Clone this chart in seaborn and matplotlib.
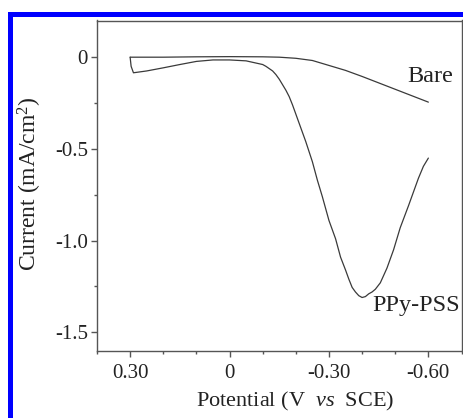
import matplotlib
matplotlib.use("Agg")
import matplotlib.pyplot as plt
from matplotlib.patches import Rectangle
from matplotlib.ticker import FixedLocator, MultipleLocator
import numpy as np
import pandas as pd
import seaborn as sns

# Linear sweep voltammograms (potential in V vs SCE, current density in mA/cm2)
bare_v = [0.30, 0.20, 0.10, 0.00, -0.10, -0.15, -0.20, -0.25, -0.30, -0.35,
          -0.40, -0.45, -0.50, -0.55, -0.60]
bare_i = [0.000, 0.000, 0.002, 0.003, 0.002, 0.000, -0.006, -0.018, -0.045,
          -0.072, -0.105, -0.140, -0.175, -0.210, -0.245]

ppy_v = [0.30, 0.297, 0.29, 0.25, 0.20, 0.15, 0.10, 0.05, 0.00, -0.05, -0.10,
         -0.11, -0.13, -0.14, -0.15, -0.16, -0.17, -0.18, -0.19, -0.21, -0.23,
         -0.25, -0.265, -0.28, -0.30, -0.32, -0.335, -0.35, -0.36, -0.37, -0.38,
         -0.39, -0.40, -0.41, -0.42, -0.43, -0.44, -0.455, -0.475, -0.495,
         -0.515, -0.54, -0.555, -0.57, -0.585, -0.60]
ppy_i = [0.000, -0.050, -0.085, -0.075, -0.058, -0.040, -0.023, -0.015, -0.015,
         -0.020, -0.040, -0.050, -0.075, -0.095, -0.120, -0.150, -0.180, -0.215,
         -0.260, -0.360, -0.460, -0.570, -0.670, -0.760, -0.890, -0.990, -1.090,
         -1.160, -1.210, -1.255, -1.280, -1.300, -1.310, -1.305, -1.290, -1.280,
         -1.265, -1.230, -1.150, -1.050, -0.930, -0.810, -0.735, -0.660, -0.595,
         -0.550]

series_names = ["Bare", "PPy-PSS"]
x_ticks = [0.30, 0.00, -0.30, -0.60]
x_tick_labels = ["0.30", "0", "-0.30", "-0.60"]
y_ticks = [0.0, -0.5, -1.0, -1.5]
y_tick_labels = ["0", "-0.5", "-1.0", "-1.5"]

sns.set_style("ticks")
plt.rcParams["font.family"] = ["Liberation Serif", "DejaVu Serif"]
plt.rcParams["mathtext.fontset"] = "custom"
plt.rcParams["mathtext.rm"] = "Liberation Serif"
plt.rcParams["mathtext.it"] = "Liberation Serif:italic"

df = pd.concat([
    pd.DataFrame({"Potential": bare_v, "Current": bare_i, "Electrode": series_names[0]}),
    pd.DataFrame({"Potential": ppy_v, "Current": ppy_i, "Electrode": series_names[1]}),
], ignore_index=True)

W, H = 463, 418
fig = plt.figure(figsize=(W / 100, H / 100), dpi=100)
ax = fig.add_axes([97 / W, 1 - 350.7 / H, (461.5 - 97) / W, (350.7 - 20.5) / H])

line_color = "#3a3a3a"
sns.lineplot(data=df, x="Potential", y="Current", hue="Electrode",
             palette={n: line_color for n in series_names},
             estimator=None, sort=False, linewidth=0.9, legend=False, ax=ax)

ax.set_xlim(0.40, -0.70)
ax.set_ylim(-1.6, 0.2)

ax.xaxis.set_major_locator(FixedLocator(x_ticks))
ax.set_xticklabels(x_tick_labels)
ax.xaxis.set_minor_locator(MultipleLocator(0.1))
ax.yaxis.set_major_locator(FixedLocator(y_ticks))
ax.set_yticklabels(y_tick_labels)
ax.yaxis.set_minor_locator(FixedLocator([-0.25, -0.75, -1.25]))

spine_color = "#555555"
for s in ax.spines.values():
    s.set_visible(True)
    s.set_color(spine_color)
    s.set_linewidth(1.0)
ax.tick_params(which="major", direction="out", length=4.5, width=1.0,
               color=spine_color, labelsize=15, labelcolor="#222222")
ax.tick_params(which="minor", direction="out", length=2.3, width=1.0,
               color=spine_color)
ax.tick_params(axis="x", which="major", pad=5)
ax.tick_params(axis="y", which="major", pad=2)

ax.set_xlabel(r"Potential (V  $\mathit{vs}$  SCE)", fontsize=16, color="#222222")
ax.set_ylabel(r"Current (mA/cm$^{2}$)", fontsize=17, color="#222222")
ax.xaxis.set_label_coords(0.543, -0.118)
ax.yaxis.set_label_coords(-0.145, 0.506)

ax.text(-0.537, -0.135, "Bare", fontsize=17.5, color="#222222", ha="left", va="baseline")
ax.text(-0.431, -1.383, "PPy-PSS", fontsize=17.5, color="#222222", ha="left", va="baseline")

# blue frame along the top and left edges
blue = "#0000ff"
fig.patches.append(Rectangle((8 / W, 0), 5 / W, 1 - 12 / H, transform=fig.transFigure,
                             facecolor=blue, edgecolor="none", zorder=5))
fig.patches.append(Rectangle((8 / W, 1 - 17 / H), 1 - 8 / W, 5 / H, transform=fig.transFigure,
                             facecolor=blue, edgecolor="none", zorder=5))

fig.savefig("out.png", dpi=100)
